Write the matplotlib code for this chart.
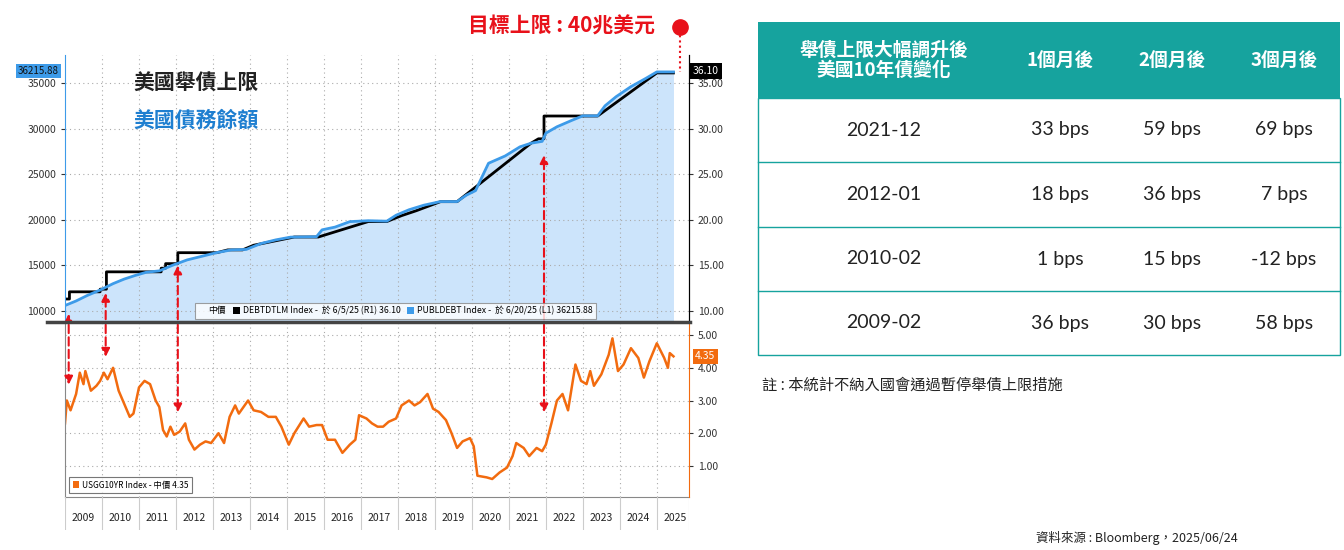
import numpy as np
import matplotlib.pyplot as plt
from matplotlib.patches import Rectangle, Patch

plt.rcParams['font.family'] = ['Noto Sans CJK TC', 'DejaVu Sans']

# debt ceiling (billion USD)
ceil_x = [2009.0, 2009.12, 2009.12, 2009.95, 2009.95, 2010.12, 2010.12, 2011.6, 2011.6, 2011.72, 2011.72, 2012.05,
          2012.05, 2013.1, 2013.4, 2013.8, 2014.1, 2015.2, 2015.85, 2017.2, 2017.7, 2018.1, 2018.5, 2019.15,
          2019.6, 2021.6, 2021.8, 2021.95, 2021.95, 2023.4, 2025.0, 2025.45]
ceil_y = [11315, 11315, 12104, 12104, 12394, 12394, 14294, 14294, 14694, 14694, 15194, 15194,
          16394, 16394, 16699, 16699, 17212, 18113, 18113, 19808, 19808, 20456, 21000, 21988,
          21988, 28401, 28881, 28881, 31381, 31381, 36104, 36104]

# total public debt (billion USD)
debt_x = [2009.0, 2009.3, 2009.6, 2009.95, 2010.3, 2010.6, 2010.9, 2011.2, 2011.55, 2011.9, 2012.3, 2012.7,
          2013.1, 2013.5, 2013.9, 2014.3, 2014.7, 2015.1, 2015.8, 2015.95, 2016.3, 2016.7, 2017.2, 2017.7,
          2017.95, 2018.3, 2018.7, 2019.15, 2019.6, 2019.85, 2020.1, 2020.25, 2020.45, 2020.9, 2021.3,
          2021.6, 2021.9, 2022.0, 2022.3, 2022.7, 2023.0, 2023.4, 2023.6, 2023.9, 2024.3, 2024.7, 2025.0, 2025.45]
debt_y = [10600, 11100, 11700, 12300, 13000, 13500, 13900, 14250, 14400, 15000, 15600, 16000,
          16400, 16700, 16750, 17400, 17800, 18100, 18150, 18900, 19200, 19800, 19900, 19850,
          20500, 21100, 21600, 22000, 22000, 22700, 23200, 24500, 26200, 27000, 28000,
          28400, 28600, 29500, 30200, 30900, 31400, 31400, 32500, 33500, 34600, 35500, 36215, 36215]

# US 10Y yield (%)
yld_x = [2009.0, 2009.05, 2009.15, 2009.3, 2009.4, 2009.5, 2009.55, 2009.7, 2009.85, 2009.95, 2010.05, 2010.15,
         2010.3, 2010.45, 2010.6, 2010.75, 2010.85, 2011.0, 2011.15, 2011.3, 2011.45, 2011.55, 2011.65, 2011.75,
         2011.85, 2011.95, 2012.1, 2012.25, 2012.35, 2012.5, 2012.65, 2012.8, 2012.95, 2013.15, 2013.3, 2013.45,
         2013.6, 2013.7, 2013.95, 2014.1, 2014.3, 2014.5, 2014.7, 2014.85, 2015.05, 2015.2, 2015.45, 2015.6,
         2015.8, 2015.95, 2016.1, 2016.3, 2016.5, 2016.7, 2016.85, 2016.95, 2017.15, 2017.3, 2017.45, 2017.6,
         2017.75, 2017.95, 2018.1, 2018.3, 2018.45, 2018.6, 2018.8, 2018.95, 2019.1, 2019.3, 2019.45, 2019.6,
         2019.75, 2019.95, 2020.05, 2020.15, 2020.4, 2020.55, 2020.75, 2020.95, 2021.1, 2021.2, 2021.4, 2021.55,
         2021.75, 2021.9, 2022.0, 2022.15, 2022.3, 2022.45, 2022.6, 2022.8, 2022.95, 2023.1, 2023.2, 2023.3,
         2023.5, 2023.7, 2023.8, 2023.95, 2024.1, 2024.3, 2024.5, 2024.65, 2024.8, 2025.0, 2025.2, 2025.3,
         2025.35, 2025.45]
yld_y = [2.3, 3.0, 2.7, 3.2, 3.85, 3.5, 3.9, 3.3, 3.45, 3.6, 3.85, 3.65,
         4.0, 3.3, 2.9, 2.5, 2.6, 3.4, 3.6, 3.5, 3.0, 2.8, 2.1, 1.9,
         2.2, 1.95, 2.05, 2.3, 1.8, 1.5, 1.65, 1.75, 1.7, 2.0, 1.7, 2.5,
         2.85, 2.6, 3.0, 2.7, 2.65, 2.5, 2.5, 2.2, 1.65, 2.0, 2.45, 2.2,
         2.25, 2.25, 1.8, 1.8, 1.4, 1.65, 1.8, 2.55, 2.45, 2.3, 2.2, 2.2,
         2.35, 2.45, 2.85, 3.0, 2.85, 2.95, 3.2, 2.75, 2.65, 2.4, 2.0, 1.55,
         1.75, 1.85, 1.6, 0.7, 0.65, 0.6, 0.8, 0.95, 1.3, 1.7, 1.55, 1.3,
         1.55, 1.45, 1.65, 2.3, 3.0, 3.2, 2.7, 4.1, 3.6, 3.5, 3.9, 3.45,
         3.8, 4.4, 4.9, 3.9, 4.1, 4.6, 4.3, 3.7, 4.2, 4.75, 4.3, 4.0,
         4.45, 4.35]

# ceiling raise dates, arrow tips (top panel, bottom panel)
ev_x = [2009.1, 2010.1, 2012.05, 2021.95]
ev_top = [10000, 12300, 15300, 27400]
ev_bot = [3.4, 4.25, 2.55, 2.55]

years = list(range(2009, 2026))

tbl_head = ['舉債上限大幅調升後\n美國10年債變化', '1個月後', '2個月後', '3個月後']
tbl_rows = [['2021-12', '33 bps', '59 bps', '69 bps'],
            ['2012-01', '18 bps', '36 bps', '7 bps'],
            ['2010-02', '1 bps', '15 bps', '-12 bps'],
            ['2009-02', '36 bps', '30 bps', '58 bps']]

W, H = 1344, 550
fig = plt.figure(figsize=(W / 100, H / 100), dpi=100)


def box(x0, y0, x1, y1):
    return [x0 / W, 1 - y1 / H, (x1 - x0) / W, (y1 - y0) / H]


X0, X1 = 2009.0, 2025.87
blue, black, orange, red = '#3d9be9', 'black', '#f26b0f', '#e8111a'
grid_kw = dict(color='#aaaaaa', ls=(0, (1, 3)), lw=0.8)

# ---- top panel
ax1 = fig.add_axes(box(65, 55, 689, 322))
ax1.set_xlim(X0, X1)
ax1.set_ylim(8794, 38070)
ax1.fill_between(debt_x, debt_y, 8794, color='#cce4fb', lw=0)
ax1.plot(ceil_x, ceil_y, color=black, lw=2)
ax1.plot(debt_x, debt_y, color=blue, lw=2)
ax1.set_yticks([10000, 15000, 20000, 25000, 30000, 35000])
ax1.tick_params(axis='y', labelsize=7.5, colors='#333333', length=3)
ax1.set_xticks(years[1:])
ax1.tick_params(axis='x', length=0, labelbottom=False)
ax1.grid(True, **grid_kw)
for s in ['top', 'bottom']:
    ax1.spines[s].set_visible(False)
ax1.spines['left'].set_color(blue)
ax1r = ax1.twinx()
ax1r.set_ylim(8.794, 38.07)
ax1r.set_yticks([10, 15, 20, 25, 30, 35])
ax1r.set_yticklabels(['10.00', '15.00', '20.00', '25.00', '30.00', '35.00'])
ax1r.tick_params(labelsize=7.5, colors='#333333', length=3)
for s in ['top', 'bottom', 'left']:
    ax1r.spines[s].set_visible(False)
ax1.text(0.11, 0.87, '美國舉債上限', transform=ax1.transAxes, fontsize=15, fontweight='bold', color='#222222')
ax1.text(0.11, 0.73, '美國債務餘額', transform=ax1.transAxes, fontsize=15, fontweight='bold', color='#1f7fd0')
leg_h = [Patch(fc='none', ec='none'), Patch(fc=black), Patch(fc=blue)]
leg_l = ['中價', 'DEBTDTLM Index -  於 6/5/25 (R1) 36.10', 'PUBLDEBT Index -  於 6/20/25 (L1) 36215.88']
lg = ax1.legend(leg_h, leg_l, ncol=3, loc='lower center', bbox_to_anchor=(0.53, -0.005), fontsize=6.3,
                handlelength=0.8, handleheight=0.8, handletextpad=0.3, columnspacing=0.8,
                fancybox=False, edgecolor='#888888', borderpad=0.4)
lg.get_frame().set_linewidth(0.8)
for x, y in zip(ev_x, ev_top):
    ax1.annotate('', xy=(x, y), xytext=(x, 8794),
                 arrowprops=dict(arrowstyle='-|>', color=red, lw=1.5, ls=(0, (4, 2)), mutation_scale=12))

# ---- bottom panel
ax2 = fig.add_axes(box(65, 322, 689, 497))
ax2.set_xlim(X0, X1)
ax2.set_ylim(0.05, 5.4)
ax2.plot(yld_x, yld_y, color=orange, lw=1.8)
ax2.set_xticks(years[1:])
ax2.tick_params(axis='x', length=0, labelbottom=False)
ax2.set_yticks([1, 2, 3, 4, 5])
ax2.tick_params(axis='y', left=False, labelleft=False, length=0)
ax2.grid(True, **grid_kw)
for s in ['top', 'right']:
    ax2.spines[s].set_visible(False)
ax2.spines['left'].set_color('#888888')
ax2.spines['bottom'].set_color('#888888')
ax2r = ax2.twinx()
ax2r.set_ylim(0.05, 5.4)
ax2r.set_yticks([1, 2, 3, 4, 5])
ax2r.set_yticklabels(['1.00', '2.00', '3.00', '4.00', '5.00'])
ax2r.tick_params(labelsize=7.5, colors='#333333', length=3)
ax2r.spines['right'].set_color(orange)
for s in ['top', 'bottom', 'left']:
    ax2r.spines[s].set_visible(False)
ax2r.text(1.01, 4.35, '4.35', transform=ax2r.get_yaxis_transform(), fontsize=7.5, color='white',
          va='center', bbox=dict(boxstyle='square,pad=0.25', fc=orange, ec='none'))
lg2 = ax2.legend([Patch(fc=orange)], ['USGG10YR Index - 中價 4.35'], loc='lower left',
                 bbox_to_anchor=(0.0, 0.0), fontsize=6, handlelength=0.8, handleheight=0.8,
                 handletextpad=0.3, fancybox=False, edgecolor='#555555', borderpad=0.4)
lg2.get_frame().set_linewidth(0.8)
for x, y in zip(ev_x, ev_bot):
    ax2.annotate('', xy=(x, y), xytext=(x, 5.4),
                 arrowprops=dict(arrowstyle='-|>', color=red, lw=1.5, ls=(0, (4, 2)), mutation_scale=12))

# ---- year strip
ax3 = fig.add_axes(box(65, 497, 689, 530))
ax3.set_xlim(X0, X1)
ax3.set_ylim(0, 1)
ax3.axis('off')
for y in years:
    ax3.axvline(y, color='#cccccc', lw=0.8)
    ax3.text(y + 0.5, 0.35, str(y), ha='center', va='center', fontsize=7.5, color='#222222')
ax3.axvline(X1, color='#cccccc', lw=0.8)

# separator and value tags
fig.add_artist(plt.Line2D([47 / W, 690 / W], [1 - 322 / H] * 2, color='#444444', lw=2.5))
fig.text(18 / W, 1 - 71 / H, '36215.88', fontsize=7, color='#111111', va='center',
         bbox=dict(boxstyle='square,pad=0.25', fc=blue, ec='none'))
fig.text(693 / W, 1 - 71 / H, '36.10', fontsize=7.5, color='white', va='center',
         bbox=dict(boxstyle='square,pad=0.25', fc='black', ec='none'))

# target marker
fig.text(655 / W, 1 - 26 / H, '目標上限 : 40兆美元', fontsize=15, fontweight='bold', color=red,
         ha='right', va='center')
fig.add_artist(plt.Line2D([680 / W], [1 - 27 / H], marker='o', ms=11, color=red))
fig.add_artist(plt.Line2D([680 / W] * 2, [1 - 30 / H, 1 - 72 / H], color=red, lw=1.5, ls=(0, (1, 1.5))))

# ---- table
teal = '#16a39e'
tx = [758, 1010, 1115, 1230, 1340]
cx = [884, 1060, 1172, 1284]
ty = [22, 98, 162, 227, 291, 355]
fig.add_artist(Rectangle((tx[0] / W, 1 - ty[1] / H), (tx[-1] - tx[0]) / W, (ty[1] - ty[0]) / H,
                         transform=fig.transFigure, fc=teal, ec='none'))
fig.add_artist(Rectangle((tx[0] / W, 1 - ty[-1] / H), (tx[-1] - tx[0]) / W, (ty[-1] - ty[1]) / H,
                         transform=fig.transFigure, fc='none', ec=teal, lw=1))
for yy in ty[2:-1]:
    fig.add_artist(plt.Line2D([tx[0] / W, tx[-1] / W], [1 - yy / H] * 2, color=teal, lw=1))
hy = (ty[0] + ty[1]) / 2
for c, t in zip(cx, tbl_head):
    fig.text(c / W, 1 - hy / H, t, fontsize=13.5, fontweight='bold', color='white', ha='center',
             va='center', linespacing=1.05)
for i, row in enumerate(tbl_rows):
    ry = (ty[i + 1] + ty[i + 2]) / 2
    for c, t in zip(cx, row):
        fig.text(c / W, 1 - ry / H, t, fontsize=14, color='#222222', ha='center', va='center',
                 family=['Lato', 'DejaVu Sans'])

fig.text(762 / W, 1 - 385 / H, '註 : 本統計不納入國會通過暫停舉債上限措施', fontsize=11, color='#222222', va='center')
fig.text(1238 / W, 1 - 538 / H, '資料來源 : Bloomberg，2025/06/24', fontsize=9, color='#222222',
         ha='right', va='center')

fig.savefig('out.png', dpi=100)
